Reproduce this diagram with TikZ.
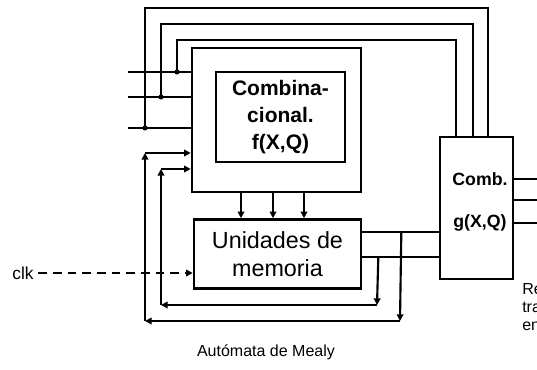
\documentclass[tikz,border=0pt]{standalone}
\usepackage{fontspec}
\setmainfont{Liberation Sans}
\usetikzlibrary{arrows.meta,calc}
\tikzstyle{block} = [rectangle, draw, line width=2pt, inner sep=0pt, align=center]
\tikzstyle{wire} = [line width=2pt]
\tikzstyle{back} = [line width=1.6pt, ->]

\begin{document}
\begin{tikzpicture}[x=0.75pt, y=-0.75pt, >={Triangle[length=5pt,width=5pt]}]
   \useasboundingbox (0,0) rectangle (537,369);
   % blocks
   \node[block, minimum width=126.75pt, minimum height=108pt] (fbox) at (276.5,120) {};
   \node[block, minimum width=96.75pt, minimum height=67.5pt,
         font=\bfseries\fontsize{15.75}{20.3}\selectfont] (fcomb) at (280.5,117) {Combina-\\cional.\\f(X,Q)};
   \node[block, minimum width=125.25pt, minimum height=51.75pt,
         font=\fontsize{17.5}{21}\selectfont] (mem) at (277.5,254) {Unidades de\\memoria};
   \node[block, minimum width=54.75pt, minimum height=106.5pt] (gbox) at (476.5,208) {};
   \node[font=\bfseries\fontsize{13.3}{16}\selectfont] (gname) at (480,179) {Comb.};
   \node[font=\bfseries\fontsize{13.3}{16}\selectfont] (gfun) at (480,223) {g(X,Q)};
   \node[font=\fontsize{13}{15}\selectfont] (clk) at (23,273) {clk};
   \node[font=\fontsize{12}{13.5}\selectfont, anchor=north west, align=left, inner sep=0pt] (note) at (522,283) {Re\\tra\\en};
   \node[font=\fontsize{12}{14}\selectfont] (caption) at (266,352) {Autómata de Mealy};

   % points
   \coordinate (in1) at (128,72);
   \coordinate (in2) at (128,97);
   \coordinate (in3) at (128,128);
   \coordinate (j1) at (177,72);
   \coordinate (j2) at (161,97);
   \coordinate (j3) at (145,128);
   \coordinate (t1) at (456,40);
   \coordinate (t2) at (473,24);
   \coordinate (t3) at (488,8);
   \coordinate (o1) at (537,179);
   \coordinate (o2) at (537,200);
   \coordinate (o3) at (537,223);

   % inputs
   \foreach \n in {1,2,3} {
     \draw[wire] (in\n) -- (in\n -| fbox.west);
     \draw[wire] (j\n) |- (t\n) -- (t\n |- gbox.north);
     \fill (j\n) circle[radius=1.9pt];
     \draw[wire] (o\n -| gbox.east) -- (o\n);
   }

   % f -> memory
   \foreach \d in {-35.5,-3.5,27.5}
     \draw[line width=1.5pt, ->] ($(fbox.south)+(\d,0)$) coordinate (fa) -- (fa |- mem.north);

   % memory -> g
   \coordinate (m1) at ($(mem.east)+(0,-22)$);
   \coordinate (m2) at ($(mem.east)+(0,3)$);
   \draw[wire] (m1) -- (m1 -| gbox.west);
   \draw[wire] (m2) -- (m2 -| gbox.west);

   % feedback
   \coordinate (b1) at ($(m1)+(39,0)$);
   \coordinate (b2) at ($(m2)+(16,0)$);
   \coordinate (c1) at (400,321);
   \coordinate (c2) at (377,305);
   \coordinate (d1) at (145,321);
   \coordinate (d2) at (161,305);
   \coordinate (e1) at (145,153);
   \coordinate (e2) at (161,169);
   \foreach \n in {1,2} {
     \draw[back] (b\n) -- (c\n);
     \draw[back] (c\n) -- (d\n);
     \draw[back] (d\n) -- (e\n);
     \draw[back] (e\n) -- (e\n -| fbox.west);
   }

   % clock
   \draw[line width=1.6pt, dash pattern=on 6.5pt off 4.5pt, ->] (clk) -- (clk -| mem.west);
\end{tikzpicture}
\end{document}
